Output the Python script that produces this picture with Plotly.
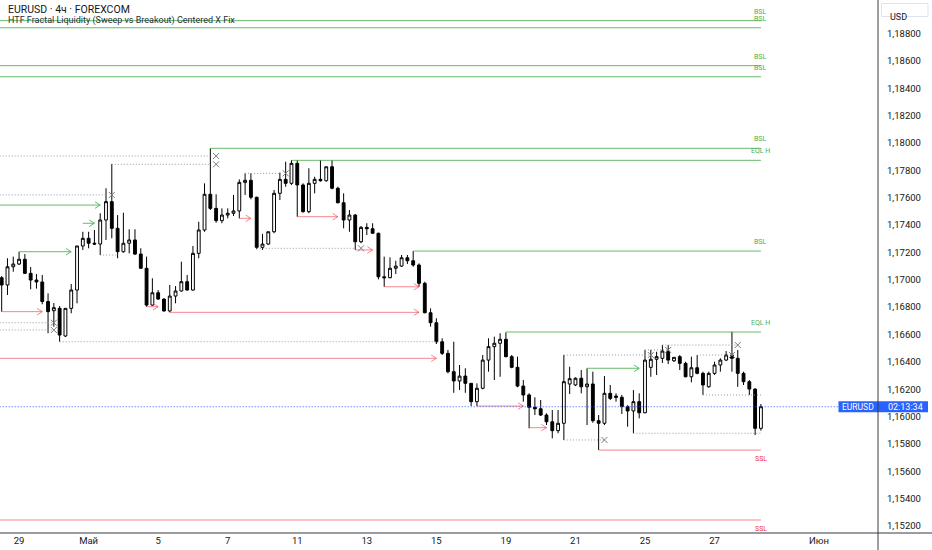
import plotly.graph_objects as go

# ---------------- data (4h candles, index = bar number) ----------------
opens = [1.17015,1.16962,1.17095,1.17115,1.17150,1.17047,1.16998,1.16984,1.16841,1.16774,
         1.16791,1.16589,1.16791,1.16925,1.17247,1.17303,1.17267,1.17261,1.17437,1.17571,
         1.17376,1.17205,1.17267,1.17291,1.17188,1.17084,1.16815,1.16905,1.16859,1.16772,
         1.16881,1.16918,1.16986,1.16925,1.17193,1.17364,1.17625,1.17522,1.17432,1.17473,
         1.17486,1.17503,1.17712,1.17727,1.17603,1.17237,1.17261,1.17351,1.17632,1.17734,
         1.17705,1.17851,1.17693,1.17498,1.17705,1.17734,1.17724,1.17826,1.17669,1.17563,
         1.17437,1.17473,1.17278,1.17383,1.17373,1.17340,1.17022,1.17015,1.17084,1.17100,
         1.17161,1.17139,1.17108,1.16974,1.16759,1.16686,1.16547,1.16462,1.16328,1.16260,
         1.16296,1.16243,1.16109,1.16207,1.16413,1.16511,1.16536,1.16565,1.16438,1.16360,
         1.16223,1.16158,1.16068,1.16057,1.16011,1.15962,1.15897,1.15951,1.16238,1.16231,
         1.16280,1.16218,1.16238,1.15970,1.15951,1.16170,1.16150,1.16141,1.16072,1.16041,
         1.16109,1.16028,1.16360,1.16419,1.16426,1.16479,1.16408,1.16438,1.16389,1.16291,
         1.16357,1.16316,1.16218,1.16316,1.16377,1.16413,1.16450,1.16426,1.16316,1.16255,
         1.16201,1.15914]
highs = [1.17027,1.17157,1.17169,1.17205,1.17188,1.17093,1.17042,1.17035,1.16901,1.16830,
         1.16808,1.16791,1.16969,1.17247,1.17351,1.17351,1.17364,1.17486,1.17669,1.17846,
         1.17473,1.17490,1.17369,1.17369,1.17230,1.17169,1.17011,1.16925,1.16864,1.16962,
         1.16954,1.17132,1.17035,1.17247,1.17424,1.17705,1.17961,1.17625,1.17522,1.17522,
         1.17620,1.17734,1.17778,1.17778,1.17607,1.17335,1.17351,1.17656,1.17783,1.17863,
         1.17875,1.17875,1.17705,1.17815,1.17753,1.17875,1.17826,1.17875,1.17680,1.17632,
         1.17510,1.17481,1.17393,1.17413,1.17413,1.17344,1.17169,1.17164,1.17139,1.17181,
         1.17181,1.17210,1.17120,1.16986,1.16791,1.16718,1.16572,1.16487,1.16547,1.16377,
         1.16353,1.16243,1.16243,1.16450,1.16572,1.16584,1.16609,1.16616,1.16450,1.16438,
         1.16267,1.16170,1.16141,1.16121,1.16024,1.16048,1.16048,1.16450,1.16364,1.16287,
         1.16340,1.16353,1.16328,1.16011,1.16296,1.16231,1.16170,1.16158,1.16084,1.16194,
         1.16170,1.16487,1.16487,1.16474,1.16523,1.16523,1.16435,1.16450,1.16401,1.16438,
         1.16450,1.16328,1.16328,1.16401,1.16426,1.16479,1.16620,1.16487,1.16328,1.16267,
         1.16207,1.16092]
lows = [1.16767,1.16889,1.17059,1.17108,1.17042,1.16930,1.16935,1.16821,1.16609,1.16657,
        1.16547,1.16582,1.16755,1.16828,1.17218,1.17230,1.17254,1.17181,1.17291,1.17303,
        1.17157,1.17198,1.17193,1.17181,1.17084,1.16803,1.16810,1.16852,1.16767,1.16762,
        1.16828,1.16913,1.16920,1.16920,1.17157,1.17351,1.17510,1.17417,1.17413,1.17449,
        1.17466,1.17449,1.17620,1.17588,1.17223,1.17218,1.17254,1.17340,1.17583,1.17680,
        1.17693,1.17461,1.17490,1.17486,1.17632,1.17717,1.17717,1.17661,1.17559,1.17376,
        1.17351,1.17218,1.17267,1.17327,1.17335,1.17003,1.16949,1.17011,1.17042,1.17095,
        1.17115,1.17095,1.16949,1.16755,1.16657,1.16530,1.16450,1.16316,1.16174,1.16194,
        1.16174,1.16077,1.16077,1.16199,1.16328,1.16267,1.16291,1.16433,1.16353,1.16214,
        1.16109,1.15914,1.16011,1.16004,1.15938,1.15841,1.15878,1.15829,1.16165,1.16223,
        1.16170,1.15938,1.15955,1.15756,1.15938,1.16121,1.16109,1.16019,1.15926,1.15878,
        1.15987,1.16024,1.16291,1.16304,1.16392,1.16384,1.16399,1.16340,1.16287,1.16250,
        1.16309,1.16158,1.16211,1.16304,1.16328,1.16406,1.16328,1.16218,1.16231,1.16158,
        1.15865,1.15897]
closes = [1.16962,1.17095,1.17115,1.17150,1.17047,1.16998,1.16984,1.16841,1.16767,1.16796,
          1.16596,1.16791,1.16925,1.17247,1.17303,1.17267,1.17261,1.17437,1.17571,1.17376,
          1.17205,1.17267,1.17291,1.17188,1.17084,1.16815,1.16905,1.16859,1.16772,1.16881,
          1.16918,1.16986,1.16925,1.17193,1.17364,1.17625,1.17522,1.17432,1.17473,1.17486,
          1.17503,1.17712,1.17727,1.17603,1.17237,1.17261,1.17351,1.17632,1.17734,1.17705,
          1.17851,1.17693,1.17498,1.17705,1.17734,1.17724,1.17826,1.17669,1.17563,1.17437,
          1.17473,1.17278,1.17383,1.17373,1.17340,1.17022,1.17015,1.17084,1.17100,1.17161,
          1.17139,1.17108,1.16974,1.16759,1.16686,1.16547,1.16462,1.16328,1.16260,1.16296,
          1.16243,1.16109,1.16207,1.16413,1.16511,1.16536,1.16565,1.16438,1.16360,1.16223,
          1.16158,1.16068,1.16057,1.16011,1.15962,1.15897,1.15951,1.16255,1.16277,1.16280,
          1.16218,1.16238,1.15970,1.15951,1.16170,1.16133,1.16141,1.16072,1.16041,1.16109,
          1.16028,1.16413,1.16419,1.16438,1.16479,1.16413,1.16433,1.16389,1.16291,1.16357,
          1.16316,1.16231,1.16316,1.16377,1.16413,1.16450,1.16426,1.16316,1.16255,1.16201,
          1.15914,1.16072]
bars = list(range(len(closes)))

# x-axis date labels (bar index of each label)
date_tick_bars = [3, 15, 27, 39, 51, 63, 75, 87, 99, 111, 123, 141]
date_tick_text = ["29", "Май", "5", "7", "11", "13", "15", "19", "21", "25", "27", "Июн"]

# price axis ticks
price_ticks = [1.152, 1.154, 1.156, 1.158, 1.160, 1.162, 1.164, 1.166, 1.168, 1.170,
               1.172, 1.174, 1.176, 1.178, 1.180, 1.182, 1.184, 1.186, 1.188]

# liquidity levels (solid lines)
green_levels = [1.18894, 1.18842, 1.18565, 1.18484, 1.17961, 1.17873, 1.17210, 1.16618]
green_start = [-5, -5, -5, -5, 36, 50, 71, 87]
green_labels = ["BSL", "BSL", "BSL", "BSL", "BSL", "EQL H", "BSL", "EQL H"]
red_levels = [1.15755, 1.15244]
red_start = [103, -5]
red_labels = ["SSL", "SSL"]
level_end = 131

# breakout arrows
garrow_levels = [1.17546, 1.17413, 1.17205, 1.16353]
garrow_start = [-5, 14, 3, 101]
garrow_end = [17, 16, 12, 110]
rarrow_levels = [1.16767, 1.16803, 1.16762, 1.16426, 1.17449, 1.17461, 1.17218, 1.16949, 1.16077, 1.15919]
rarrow_start = [0, 25, 29, -5, 41, 51, 61, 66, 82, 91]
rarrow_end = [7, 27, 72, 75, 43, 58, 64, 72, 90, 94]

# swept fractal levels (dotted) and sweep marks
dot_levels = [1.17905, 1.17844, 1.17620, 1.17181, 1.16686, 1.16633, 1.16547, 1.17778,
              1.17230, 1.16450, 1.15829, 1.16487, 1.16523, 1.16450, 1.16158, 1.15878]
dot_start = [-5, 19, -5, 17, -5, -5, 10, 42, 44, 97, 97, 111, 114, 120, 121, 109]
dot_end = [36, 36, 18, 20, 9, 9, 75, 48, 61, 112, 104, 115, 127, 126, 131, 131]
sweep_bar = [37, 37, 19, None, 9, 9, None, 49, 62, 112, 104, 115, 127, 126, None, None]

last_price = closes[-1]

# ---------------- styling ----------------
GREEN = "rgba(76,175,80,0.85)"
GREEN_TXT = "#4caf50"
RED = "rgba(242,54,69,0.6)"
RED_TXT = "#f23645"
DOT = "#9598a1"
TXT = "#131722"
FONT = "Roboto"

fig = go.Figure()

def add_segments(levels, starts, ends, color, dash="solid", arrow=False, width=1):
    xs, ys = [], []
    for lv, s, e in zip(levels, starts, ends):
        xs += [s, e, None]
        ys += [lv, lv, None]
        if arrow:
            dx, dp = 0.9, 0.00024
            xs += [e - dx, e, e - dx, None]
            ys += [lv + dp, lv, lv - dp, None]
    fig.add_trace(go.Scatter(x=xs, y=ys, mode="lines", hoverinfo="skip",
                             line=dict(color=color, width=width, dash=dash),
                             showlegend=False))

add_segments(dot_levels, dot_start, dot_end, DOT, dash="1px,2px")
add_segments(green_levels, green_start, [level_end] * len(green_levels), GREEN)
add_segments(red_levels, red_start, [level_end] * len(red_levels), RED)
add_segments(garrow_levels, garrow_start, garrow_end, GREEN, arrow=True)
add_segments(rarrow_levels, rarrow_start, rarrow_end, RED, arrow=True)

# current price dotted line
fig.add_trace(go.Scatter(x=[-5, 160], y=[last_price, last_price], mode="lines",
                         hoverinfo="skip", showlegend=False,
                         line=dict(color="#2962ff", width=1, dash="1px,2px")))

# sweep X marks
sx = [b for b in sweep_bar if b is not None]
sy = [lv for lv, b in zip(dot_levels, sweep_bar) if b is not None]
fig.add_trace(go.Scatter(x=sx, y=sy, mode="markers", hoverinfo="skip", showlegend=False,
                         marker=dict(symbol="x-thin", size=6,
                                     line=dict(color="#787b86", width=1))))

# candles
fig.add_trace(go.Candlestick(
    x=bars, open=opens, high=highs, low=lows, close=closes,
    increasing=dict(line=dict(color="#000000", width=1), fillcolor="#ffffff"),
    decreasing=dict(line=dict(color="#000000", width=1), fillcolor="#000000"),
    whiskerwidth=0, showlegend=False, hoverinfo="skip"))

# level labels
for lv, lab in zip(green_levels, green_labels):
    fig.add_annotation(x=level_end, y=lv, text=lab, showarrow=False, yshift=9,
                       font=dict(family=FONT, size=7, color=GREEN_TXT))
for lv, lab in zip(red_levels, red_labels):
    fig.add_annotation(x=level_end, y=lv, text=lab, showarrow=False, yshift=-9,
                       font=dict(family=FONT, size=7, color=RED_TXT))

# titles
fig.add_annotation(xref="paper", yref="paper", x=6 / 878, y=1 - 9 / 533,
                   xanchor="left", yanchor="middle", showarrow=False,
                   text="EURUSD · 4ч · FOREXCOM",
                   font=dict(family=FONT, size=10.5, color=TXT))
fig.add_annotation(xref="paper", yref="paper", x=6 / 878, y=1 - 20.5 / 533,
                   xanchor="left", yanchor="middle", showarrow=False,
                   text="HTF Fractal Liquidity (Sweep vs Breakout) Centered X Fix",
                   font=dict(family=FONT, size=9, color="#2a2e39"))

# USD box
fig.add_shape(type="rect", xref="paper", yref="paper",
              x0=881.5 / 878, x1=928 / 878, y0=1 - 16.5 / 533, y1=1 - 3.5 / 533,
              line=dict(color="#e0e3eb", width=1), fillcolor="#ffffff")
fig.add_annotation(xref="paper", yref="paper", x=898 / 878, y=1 - 10 / 533,
                   xanchor="center", showarrow=False, text="USD",
                   font=dict(family=FONT, size=9, color=TXT))

# price label band
fig.add_shape(type="rect", xref="paper", yref="y",
              x0=838.5 / 878, x1=928 / 878, y0=last_price - 0.00040, y1=last_price + 0.00040,
              line=dict(width=0), fillcolor="#2962ff")
fig.add_annotation(xref="paper", yref="y", x=858 / 878, y=last_price, showarrow=False,
                   xanchor="center", text="EURUSD",
                   font=dict(family=FONT, size=8.5, color="#ffffff"))
fig.add_annotation(xref="paper", yref="y", x=905 / 878, y=last_price, showarrow=False,
                   xanchor="center", text="02:13:34",
                   font=dict(family=FONT, size=9, color="#ffffff"))

# axis frame lines
fig.add_shape(type="line", xref="paper", yref="paper", x0=1, x1=1, y0=-17 / 533, y1=1,
              line=dict(color="#363a45", width=1))
fig.add_shape(type="line", xref="paper", yref="paper", x0=0, x1=932 / 878, y0=0, y1=0,
              line=dict(color="#363a45", width=1))

fig.update_layout(
    width=932, height=550,
    margin=dict(l=0, r=54, t=0, b=17),
    paper_bgcolor="#ffffff", plot_bgcolor="#ffffff",
    separators=", ",
    showlegend=False,
    xaxis=dict(range=[-0.29, 151.2], showgrid=False, zeroline=False, showline=False,
               tickvals=date_tick_bars, ticktext=date_tick_text, ticks="",
               tickfont=dict(family=FONT, size=9.5, color=TXT),
               rangeslider=dict(visible=False), fixedrange=True),
    yaxis=dict(range=[1.15149, 1.19045], side="right", showgrid=False, zeroline=False,
               showline=False, tickvals=price_ticks, tickformat=".5f", ticks="",
               ticklabelstandoff=8,
               tickfont=dict(family=FONT, size=9.5, color=TXT), fixedrange=True),
    boxgap=0.3,
)

fig.write_html("out.html", config={"displayModeBar": False},
               post_script="document.body.style.margin='0px';"
                           "document.body.style.overflow='hidden';")
